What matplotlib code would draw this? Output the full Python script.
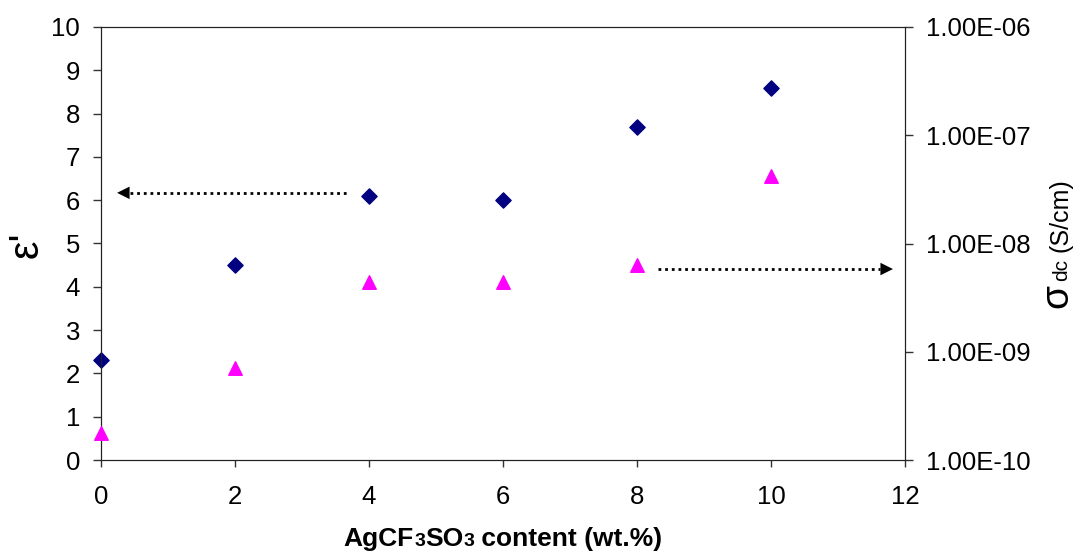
import matplotlib
matplotlib.use("Agg")
import matplotlib.pyplot as plt
from matplotlib.ticker import FixedLocator, NullLocator

plt.rcParams['font.family'] = ['Liberation Sans', 'DejaVu Sans']

# data
content = [0, 2, 4, 6, 8, 10]
eps = [2.3, 4.5, 6.1, 6.0, 7.7, 8.6]
sigma = [1.78e-10, 7.1e-10, 4.4e-9, 4.4e-9, 6.3e-9, 4.2e-8]
sigma_ticks = [1e-10, 1e-9, 1e-8, 1e-7, 1e-6]
sigma_labels = ["1.00E-10", "1.00E-09", "1.00E-08", "1.00E-07", "1.00E-06"]

W, H = 1075, 552
fig = plt.figure(figsize=(W / 100, H / 100), dpi=100)
ax = fig.add_axes([101 / W, 1 - 460 / H, 804 / W, 433 / H])
ax2 = ax.twinx()

ax.scatter(content, eps, marker="D", s=60, color="#000080", zorder=3, clip_on=False)
ax2.scatter(content, sigma, marker="^", s=95, color="#FF00FF", zorder=3, clip_on=False)

ax.set_xlim(0, 12)
ax.set_ylim(0, 10)
ax.set_xticks(range(0, 13, 2))
ax.set_yticks(range(0, 11))
ax2.set_yscale("log")
ax2.set_ylim(1e-10, 1e-6)
ax2.yaxis.set_major_locator(FixedLocator(sigma_ticks))
ax2.yaxis.set_minor_locator(NullLocator())
ax2.set_yticklabels(sigma_labels)

for a in (ax, ax2):
    a.tick_params(labelsize=18.5, length=6, width=1, pad=9, color="#333333")
    for s in a.spines.values():
        s.set_color("#222222")
ax.tick_params(axis="x", length=5, pad=13)

# x label: small "3"s sit on the baseline, so build it from pieces
r = fig.canvas.get_renderer()
pieces = [("AgCF", 19), ("3", 14), ("SO", 19), ("3", 14), (" content (wt.%)", 19)]
texts = []
total = 0
for s, fs in pieces:
    t = fig.text(0, 1 - 546 / H, s, fontsize=fs, fontweight="bold", va="baseline", ha="left")
    w = t.get_window_extent(r).width
    texts.append((t, w))
    total += w
x0 = 503 - total / 2
for t, w in texts:
    t.set_x(x0 / W)
    x0 += w

# left label
fig.text(27 / W, 1 - 245 / H, "ε'", fontsize=30, rotation=90, ha="center", va="center")

# right label pieces, rotated
fig.text(1067 / W, 1 - 308 / H, "σ", fontsize=28, rotation=90, rotation_mode="anchor",
         ha="left", va="baseline")
fig.text(1067 / W, 1 - 281 / H, "dc", fontsize=15, rotation=90, rotation_mode="anchor",
         ha="left", va="baseline")
fig.text(1067 / W, 1 - 252 / H, "(S/cm)", fontsize=18, rotation=90, rotation_mode="anchor",
         ha="left", va="baseline")

# dotted arrows pointing to the axes
ax.plot([0.43, 3.67], [6.17, 6.17], linestyle=(0, (1, 1.4)), lw=2, color="black")
ax.annotate("", xy=(0.24, 6.17), xytext=(0.44, 6.17),
            arrowprops=dict(arrowstyle="-|>,head_length=0.9,head_width=0.45", lw=0,
                            color="black", shrinkA=0, shrinkB=0))
ax.plot([8.31, 11.62], [4.41, 4.41], linestyle=(0, (1, 1.4)), lw=2, color="black")
ax.annotate("", xy=(11.82, 4.41), xytext=(11.61, 4.41),
            arrowprops=dict(arrowstyle="-|>,head_length=0.9,head_width=0.45", lw=0,
                            color="black", shrinkA=0, shrinkB=0))

fig.savefig("out.png", dpi=100)
